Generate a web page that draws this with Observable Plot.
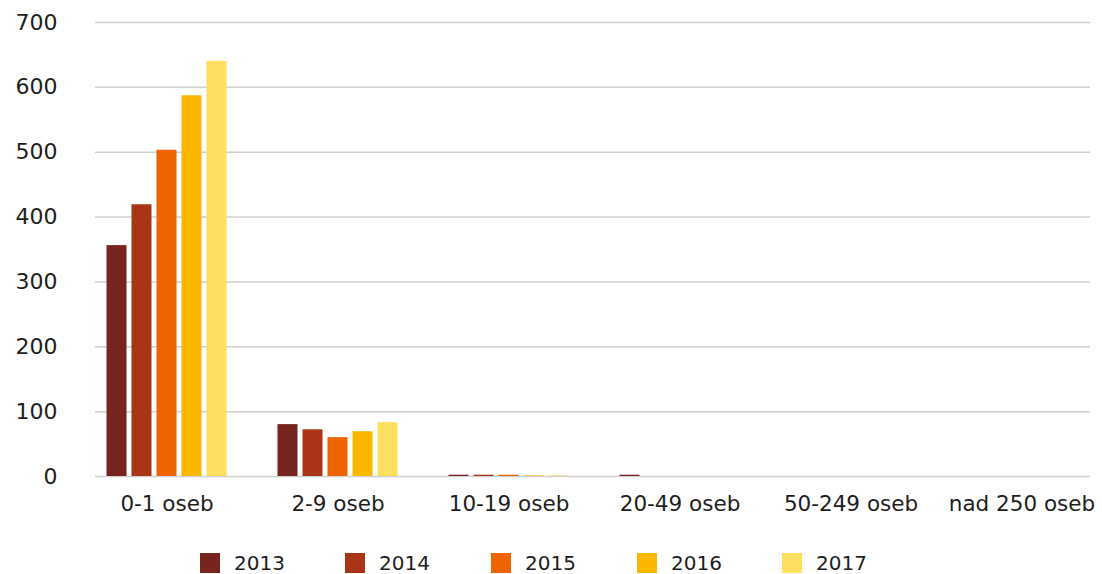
<!DOCTYPE html>
<html>
<head>
<meta charset="utf-8">
<script src="https://cdn.jsdelivr.net/npm/d3@7"></script>
<script src="https://cdn.jsdelivr.net/npm/@observablehq/plot@0.6"></script>
<style>
  html, body { margin: 0; padding: 0; background: #fff; }
  body { width: 1102px; height: 574px; overflow: hidden; font-family: "DejaVu Sans", sans-serif; color: #1e1e1e; }
  #legend { position: absolute; left: 0; top: 553px; width: 1102px; height: 20px; }
  .item { position: absolute; top: 0; display: flex; align-items: center; font-size: 20px; line-height: 20px; height: 20px; }
  .sw { width: 20px; height: 20px; margin-right: 14px; }
</style>
</head>
<body>
<div id="chart"></div>
<div id="legend"></div>
<script>
const categories = ["0-1 oseb", "2-9 oseb", "10-19 oseb", "20-49 oseb", "50-249 oseb", "nad 250 oseb"];
const years = ["2013", "2014", "2015", "2016", "2017"];
const colors = ["#78241e", "#a93516", "#ee6500", "#fab700", "#ffdf60"];
const v2013 = [356, 80, 2, 2, 0, 0];
const v2014 = [419, 72, 2, 0, 0, 0];
const v2015 = [503, 60, 2, 0, 0, 0];
const v2016 = [587, 69, 1, 0, 0, 0];
const v2017 = [640, 83, 1, 0, 0, 0];
const yTicks = [0, 100, 200, 300, 400, 500, 600, 700];

const series = [v2013, v2014, v2015, v2016, v2017];
const rows = [];
years.forEach((yr, i) => categories.forEach((c, j) => rows.push({year: yr, cat: c, value: series[i][j]})));

const bandW = 171, barW = 20, step = 25;
const marks = [
  Plot.ruleY(yTicks, {stroke: "#d0d0d0", strokeWidth: 1.5}),
  ...years.map((yr, i) => Plot.barY(rows.filter(d => d.year === yr), {
    x: "cat", y: "value", fill: colors[i],
    insetLeft: (bandW - barW) / 2, insetRight: (bandW - barW) / 2,
    dx: (i - 2) * step
  })),
  Plot.axisY({ticks: yTicks, tickSize: 0, tickPadding: 38, fontSize: 22, fill: "#1e1e1e"}),
  Plot.axisX({tickSize: 0, tickPadding: 19, fontSize: 21.5, fill: "#1e1e1e"})
];

const chart = Plot.plot({
  width: 1102,
  height: 540,
  marginTop: 22,
  marginBottom: 64,
  marginLeft: 95,
  marginRight: 12,
  x: {domain: categories, range: [81, 81 + bandW * 6], padding: 0, label: null},
  y: {domain: [0, 700], label: null},
  style: {fontFamily: "DejaVu Sans, sans-serif", color: "#1e1e1e", overflow: "visible"},
  marks
});
document.getElementById("chart").appendChild(chart);

const legend = document.getElementById("legend");
const lx = [200, 345, 491, 637, 782];
years.forEach((yr, i) => {
  const it = document.createElement("div");
  it.className = "item";
  it.style.left = lx[i] + "px";
  it.innerHTML = `<div class="sw" style="background:${colors[i]}"></div><span>${yr}</span>`;
  legend.appendChild(it);
});
</script>
</body>
</html>
